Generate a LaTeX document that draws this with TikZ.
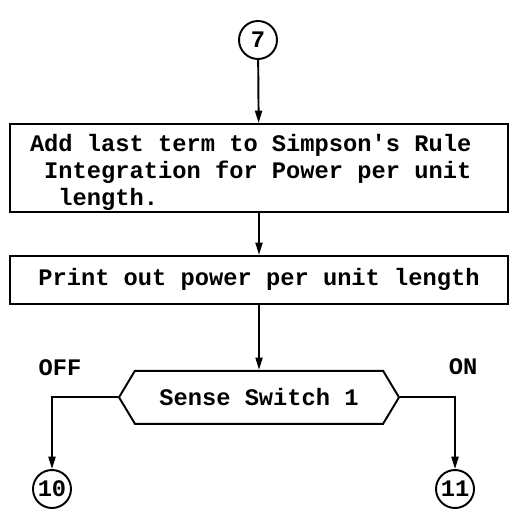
\documentclass[tikz,border=0pt]{standalone}
\usepackage{fontspec}
\setmonofont{Liberation Mono}
\usepackage{tikz}
\usetikzlibrary{arrows.meta,positioning,shapes.symbols}

\begin{document}
\begin{tikzpicture}[
  every node/.style={font=\ttfamily\bfseries\fontsize{13.5}{15.5}\selectfont},
  conn/.style={draw, circle, line width=1.1pt, minimum size=0.76cm, inner sep=0pt},
  procbox/.style={draw, line width=1.1pt, minimum width=9.96cm},
  testbox/.style={draw, line width=1.1pt, signal, signal to=west and east,
                  signal pointer angle=118, minimum width=5.6cm, minimum height=1.06cm},
  arr/.style={-{Triangle[length=7pt,width=4pt]}, line width=1.1pt},
  node distance=1.26cm
]
\useasboundingbox (0,0) rectangle (10.18,-10.6);
\node[conn] (c7) at (5.16,-0.8) {7};
\node[procbox, minimum height=1.76cm, text width=9.16cm, inner xsep=0.4cm, inner ysep=0pt,
      align=left, execute at begin node={\spaceskip=\fontdimen2\font\relax},
      below=1.26cm of c7.south, anchor=north, xshift=0.02cm] (integ)
  {\rule{0pt}{15pt}Add last term to Simpson's Rule\\~Integration for Power per unit\\~~length.};
\node[procbox, minimum height=0.96cm, below=0.84cm of integ, align=center] (print)
  {Print out power per unit length};
\node[testbox, below=1.3cm of print] (sw1) {Sense Switch 1};
\node (off) at (1.2,-7.36) {OFF};
\node (on) at (9.26,-7.34) {ON};
\node[conn] (c10) at (1.04,-9.78) {10};
\node[conn] (c11) at (9.1,-9.78) {11};
\draw[arr] (c7) -- (integ);
\draw[arr] (integ) -- (print);
\draw[arr] (print) -- (sw1);
\draw[arr] (sw1.west) -| (c10);
\draw[arr] (sw1.east) -| (c11);
\end{tikzpicture}
\end{document}
